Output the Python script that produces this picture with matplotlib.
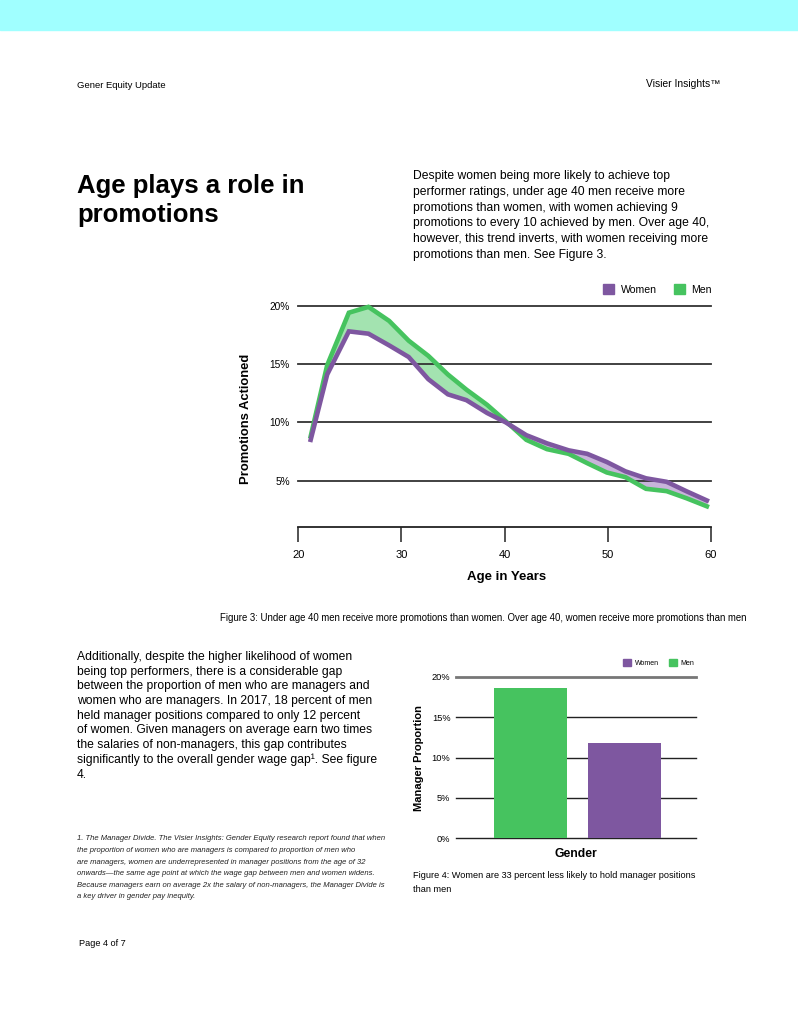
import matplotlib.pyplot as plt
from matplotlib.patches import Patch, Rectangle

plt.rcParams['font.family'] = ['Liberation Sans', 'DejaVu Sans']

# Figure 3 data: promotions actioned by age
ages = [21.2, 22.8, 24.9, 26.8, 28.8, 30.7, 32.6, 34.5, 36.3, 38.3, 40.1,
        42.1, 44.1, 46.2, 48.0, 49.9, 51.7, 53.7, 55.7, 57.6, 59.6]
women = [8.5, 14.1, 17.8, 17.6, 16.6, 15.6, 13.7, 12.4, 11.9, 10.8, 10.0,
         8.9, 8.2, 7.6, 7.3, 6.6, 5.8, 5.2, 4.9, 4.1, 3.3]
men = [8.8, 14.9, 19.4, 19.9, 18.7, 17.0, 15.7, 14.1, 12.8, 11.5, 10.1,
       8.5, 7.7, 7.3, 6.5, 5.7, 5.3, 4.3, 4.1, 3.5, 2.8]

# Figure 4 data: manager proportion by gender
genders = ['Men', 'Women']
manager_pct = [18.6, 11.8]

PURPLE = '#7E57A0'
GREEN = '#46C35F'
W, H = 798, 1028

fig = plt.figure(figsize=(W / 100, H / 100), dpi=100)


def px(x, y):
    return x / W, 1 - y / H


def txt(x, y, s, **kw):
    kw.setdefault('va', 'center')
    fig.text(*px(x, y), s, **kw)


def block(x, y0, step, lines, **kw):
    for i, line in enumerate(lines):
        txt(x, y0 + i * step, line, **kw)


# page decoration
fig.patches.append(Rectangle((0, 1 - 30 / H), 1, 30 / H, transform=fig.transFigure,
                             color='#A0FFFF', zorder=0))
txt(77, 86, 'Gener Equity Update', fontsize=6.8)
txt(720, 84, 'Visier Insights\u2122', fontsize=7.4, ha='right')
txt(77, 186, 'Age plays a role in', fontsize=18.5, fontweight='bold')
txt(77, 215, 'promotions', fontsize=18.5, fontweight='bold')

block(413, 176, 15.8, [
    'Despite women being more likely to achieve top',
    'performer ratings, under age 40 men receive more',
    'promotions than women, with women achieving 9',
    'promotions to every 10 achieved by men. Over age 40,',
    'however, this trend inverts, with women receiving more',
    'promotions than men. See Figure 3.'], fontsize=8.7)

# ---- Figure 3 ----
ax1 = fig.add_axes([298.3 / W, 1 - 527.3 / H, (711 - 298.3) / W, (527.3 - 305.7) / H])
ax1.fill_between(ages, women, men, where=[m >= w for m, w in zip(men, women)],
                 interpolate=True, color='#A3E3B0', lw=0)
ax1.fill_between(ages, women, men, where=[w >= m for m, w in zip(men, women)],
                 interpolate=True, color='#C8B4DA', lw=0)
ax1.plot(ages, men, color=GREEN, lw=3.3, solid_joinstyle='miter', clip_on=False, zorder=3)
ax1.plot(ages, women, color=PURPLE, lw=3.3, solid_joinstyle='miter', clip_on=False, zorder=4)
for v in [5, 10, 15, 20]:
    ax1.axhline(v, color='#333333', lw=1.3, zorder=1, clip_on=False)
ax1.set_xlim(20, 60)
ax1.set_ylim(1, 20)
ax1.set_yticks([5, 10, 15, 20])
ax1.set_yticklabels(['5%', '10%', '15%', '20%'], fontsize=7.3)
ax1.set_xticks([20, 30, 40, 50, 60])
ax1.tick_params(axis='y', length=0, pad=6)
ax1.tick_params(axis='x', length=10.5, width=1.3, color='#444444', pad=6, labelsize=8)
for s in ['top', 'left', 'right']:
    ax1.spines[s].set_visible(False)
ax1.spines['bottom'].set_linewidth(1.3)
ax1.spines['bottom'].set_color('#222222')
txt(246, 419, 'Promotions Actioned', rotation=90, fontsize=9.4, fontweight='bold', ha='center')
txt(507, 577, 'Age in Years', fontsize=9.5, fontweight='bold', ha='center')
ax1.legend(handles=[Patch(color=PURPLE, label='Women'), Patch(color=GREEN, label='Men')],
           loc='upper right', bbox_to_anchor=px(712, 284), bbox_transform=fig.transFigure,
           ncol=2, frameon=False, fontsize=7.6, handlelength=1.1, handleheight=1.1,
           handletextpad=0.6, columnspacing=1.6, borderpad=0, borderaxespad=0)

txt(747, 618, 'Figure 3: Under age 40 men receive more promotions than women. '
    'Over age 40, women receive more promotions than men', fontsize=6.95, ha='right')

block(77, 657, 14.7, [
    'Additionally, despite the higher likelihood of women',
    'being top performers, there is a considerable gap',
    'between the proportion of men who are managers and',
    'women who are managers. In 2017, 18 percent of men',
    'held manager positions compared to only 12 percent',
    'of women. Given managers on average earn two times',
    'the salaries of non-managers, this gap contributes',
    'significantly to the overall gender wage gap\u00b9. See figure',
    '4.'], fontsize=8.7)

block(77, 839, 11.6, [
    '1. The Manager Divide. The Visier Insights: Gender Equity research report found that when',
    'the proportion of women who are managers is compared to proportion of men who',
    'are managers, women are underrepresented in manager positions from the age of 32',
    'onwards\u2014the same age point at which the wage gap between men and women widens.',
    'Because managers earn on average 2x the salary of non-managers, the Manager Divide is',
    'a key driver in gender pay inequity.'], fontsize=5.5, style='italic', color='#222222')

txt(79, 943, 'Page 4 of 7', fontsize=6.6)

# ---- Figure 4 ----
ax2 = fig.add_axes([456 / W, 1 - 838.3 / H, 240 / W, (838.3 - 676.7) / H])
ax2.bar(range(len(genders)), manager_pct, width=0.774, color=[GREEN, PURPLE], zorder=3)
for v in [0, 5, 10, 15]:
    ax2.axhline(v, color='#222222', lw=1.0, zorder=1, clip_on=False)
ax2.axhline(20, color='#777777', lw=2.0, zorder=1, clip_on=False)
ax2.set_xlim(-0.787, 1.758)
ax2.set_ylim(0, 20)
ax2.set_yticks([0, 5, 10, 15, 20])
ax2.set_yticklabels(['0%', '5%', '10%', '15%', '20%'], fontsize=6.7)
ax2.set_xticks([])
ax2.tick_params(axis='y', length=0, pad=4)
for s in ax2.spines.values():
    s.set_visible(False)
txt(419, 758, 'Manager Proportion', rotation=90, fontsize=8, fontweight='bold', ha='center')
txt(576, 854, 'Gender', fontsize=8.7, fontweight='bold', ha='center')
ax2.legend(handles=[Patch(color=PURPLE, label='Women'), Patch(color=GREEN, label='Men')],
           loc='upper right', bbox_to_anchor=px(694, 659), bbox_transform=fig.transFigure,
           ncol=2, frameon=False, fontsize=5, handlelength=1.1, handleheight=1.1,
           handletextpad=0.5, columnspacing=1.5, borderpad=0, borderaxespad=0)

block(413, 876, 14, [
    'Figure 4: Women are 33 percent less likely to hold manager positions',
    'than men'], fontsize=6.55)

fig.savefig('out.png', dpi=100)
